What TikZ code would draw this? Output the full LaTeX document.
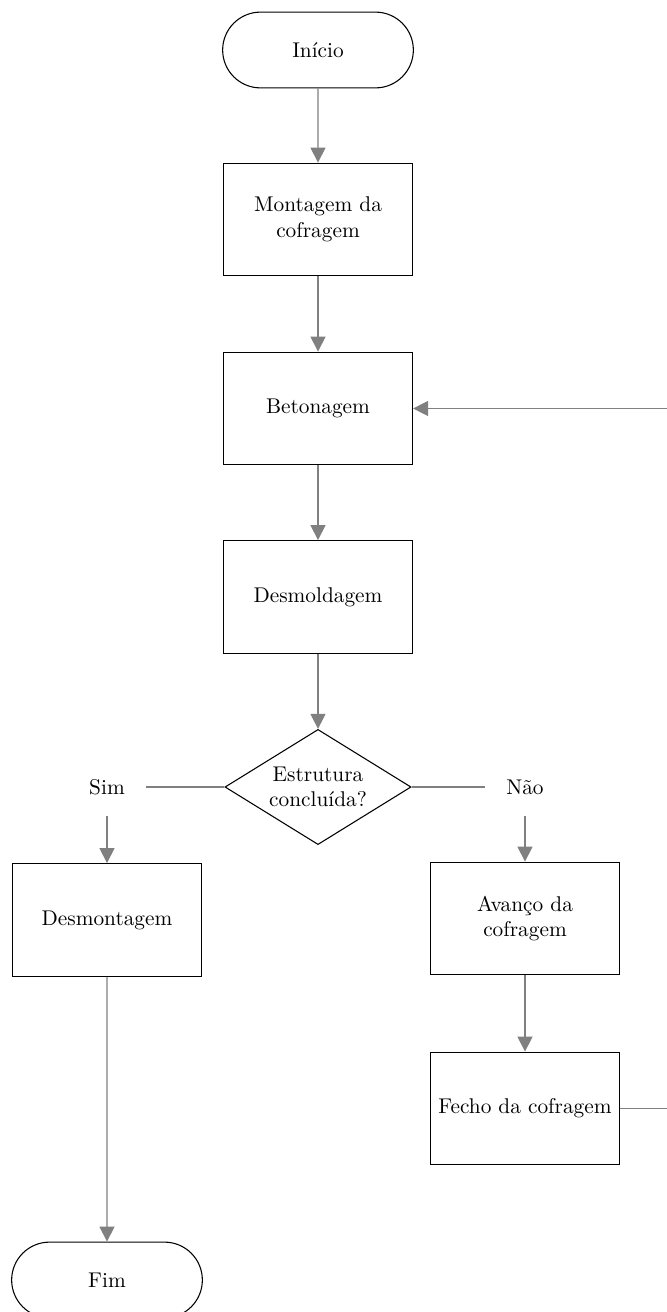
\documentclass[tikz,border=0pt]{standalone}
\usepackage{tikz}
\usetikzlibrary{
  arrows.meta,
  positioning,
  shapes.geometric,
  shapes.misc,
  calc
}
\definecolor{flowgray}{RGB}{128,128,128}

\begin{document}
\begin{tikzpicture}[
  x=0.0165cm, y=-0.0165cm,
  proc/.style={
    draw, minimum width=3.12cm, minimum height=1.86cm,
    align=center, line width=0.5pt
  },
  term/.style={draw, rounded rectangle, minimum width=3.38cm, minimum height=1.25cm, line width=0.5pt},
  decide/.style={draw, diamond, aspect=1.62, inner sep=0pt, minimum width=3.07cm, minimum height=1.9cm, align=center, line width=0.5pt},
  lbl/.style={inner sep=10pt},
  arr/.style={-{Triangle[length=7pt,width=7pt]}, flowgray, line width=0.6pt},
  lnk/.style={flowgray, line width=0.6pt},
]
\useasboundingbox (0,0) rectangle (667,1312);

\node[term]   (ini)     at (318,50)     {Início};
\node[proc]   (mont)    at (318,219.5)  {Montagem da\\cofragem};
\node[proc]   (beton)   at (318,408.5)  {Betonagem};
\node[proc]   (desm)    at (318,597)    {Desmoldagem};
\node[decide] (dec)     at (318,787)    {Estrutura\\concluída?};
\node[lbl]    (sim)     at (107,787)    {Sim};
\node[lbl]    (nao)     at (525,787)    {Não};
\node[proc]   (desmont) at (107,920)    {Desmontagem};
\node[proc]   (avanco)  at (525,918.5)  {Avanço da\\cofragem};
\node[proc]   (fecho)   at (525,1108.5) {Fecho da cofragem};
\node[term]   (fim)     at (107,1280)   {Fim};
\coordinate (volta) at (700,1108.5);

\draw[arr] (ini)   -- (mont);
\draw[arr] (mont)  -- (beton);
\draw[arr] (beton) -- (desm);
\draw[arr] (desm)  -- (dec);
\draw[lnk] (dec.west) -- (sim.east);
\draw[lnk] (dec.east) -- (nao.west);
\draw[arr] (sim)     -- (desmont);
\draw[arr] (nao)     -- (avanco);
\draw[arr] (avanco)  -- (fecho);
\draw[arr] (desmont) -- (fim);
\draw[arr] (fecho.east) -- (volta) |- (beton.east);

\end{tikzpicture}
\end{document}
